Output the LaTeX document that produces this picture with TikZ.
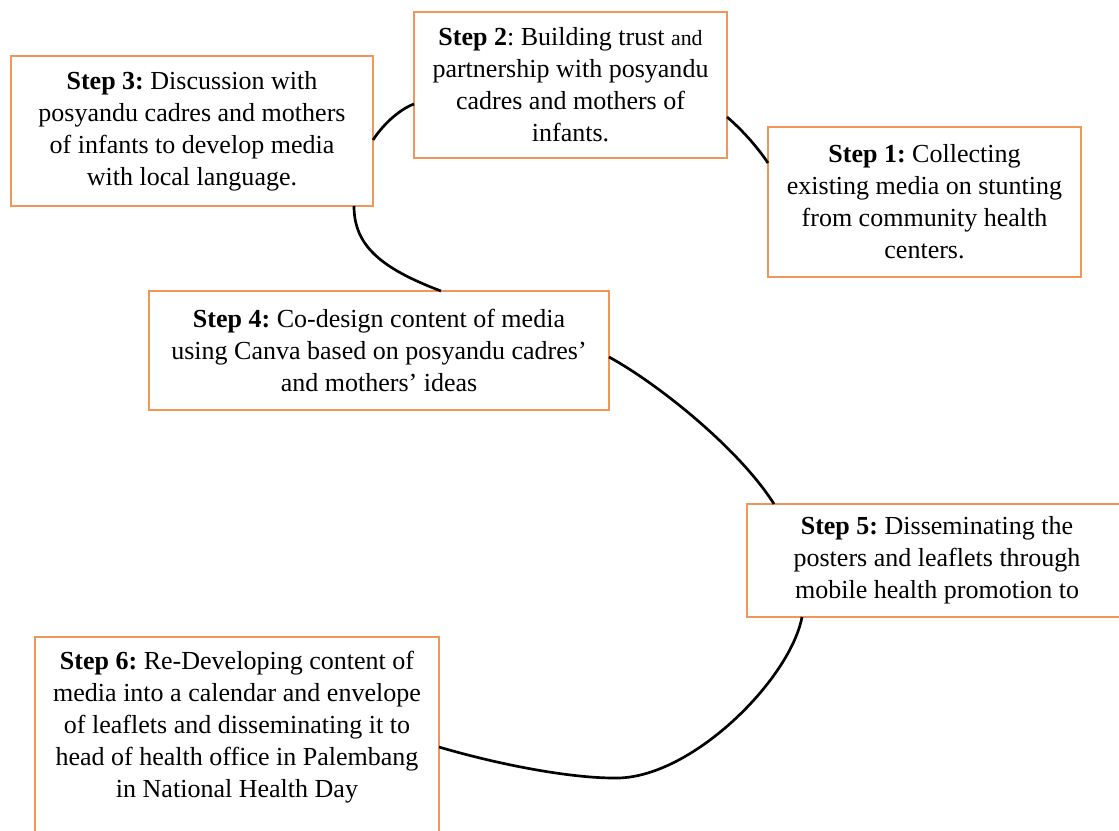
\documentclass[tikz,border=0pt]{standalone}
\usepackage{fontspec}
\setmainfont{Liberation Serif}
\usetikzlibrary{calc}
\definecolor{stepline}{RGB}{239,150,88}
\frenchspacing

\begin{document}
\begin{tikzpicture}[x=0.025cm,y=-0.025cm,
	stepbox/.style={draw=stepline,line width=1.3pt,fill=white,align=center,
		inner sep=0pt,outer sep=0pt,font=\fontsize{18.5}{22.8}\selectfont},
	link/.style={draw=black,line width=1.9pt}]
	\def\px{0.025cm}
	\def\sand{{\fontsize{15.5}{22.8}\selectfont and}}
\useasboundingbox (0,0) rectangle (1119,830);
\fill[white] (0,0) rectangle (1119,830);
\clip (0,0) rectangle (1119,830); % Clips the picture...

%Cadres des etapes
\node[stepbox,minimum width=313*\px,minimum height=150*\px] (s1) at (924.5,202)
	{\textbf{Step 1:} Collecting\\existing media on stunting\\from community health\\centers.};
\node[stepbox,minimum width=313*\px,minimum height=146*\px] (s2) at (570.5,85)
	{\textbf{Step 2}: Building trust \sand\\partnership with posyandu\\cadres and mothers of\\infants.};
\node[stepbox,minimum width=362*\px,minimum height=150*\px] (s3) at (192,131)
	{\textbf{Step 3:} Discussion with\\posyandu cadres and mothers\\of infants to develop media\\with local language.};
\node[stepbox,minimum width=460*\px,minimum height=119*\px] (s4) at (379,350.5)
	{\textbf{Step 4:} Co-design content of media\\using Canva based on posyandu cadres’\\and mothers’ ideas};
\node[stepbox,minimum width=380*\px,minimum height=113*\px] (s5) at (937,560.5)
	{\textbf{Step 5:} Disseminating the\\posters and leaflets through\\mobile health promotion to};
\node[stepbox,minimum width=404*\px,inner ysep=10pt,anchor=north] (s6) at (237,637)
	{\textbf{Step 6:} Re-Developing content of\\media into a calendar and envelope\\of leaflets and disseminating it to\\head of health office in Palembang\\in National Health Day\\~};

%Liens entre les etapes
\draw[link] ($(s3.north east)+(0,84)$) .. controls (382,126) and (398,110) .. ($(s2.north west)+(0,92)$);
\draw[link] ($(s2.north east)+(0,105)$) .. controls (740,128) and (756,145) .. ($(s1.north west)+(0,36)$);
\draw[link] ($(s3.south west)+(343,0)$) .. controls (354,245) and (380,268) .. ($(s4.north west)+(292,0)$);
\draw[link] ($(s4.north east)+(0,66)$) .. controls (660,385) and (740,450) .. ($(s5.north west)+(27,0)$);
\draw[link] ($(s5.south west)+(55,0)$) .. controls (790,680) and (690,780) .. (614,778)
	.. controls (570,778) and (500,765) .. ($(s6.north east)+(0,110)$);

\end{tikzpicture}
\end{document}
